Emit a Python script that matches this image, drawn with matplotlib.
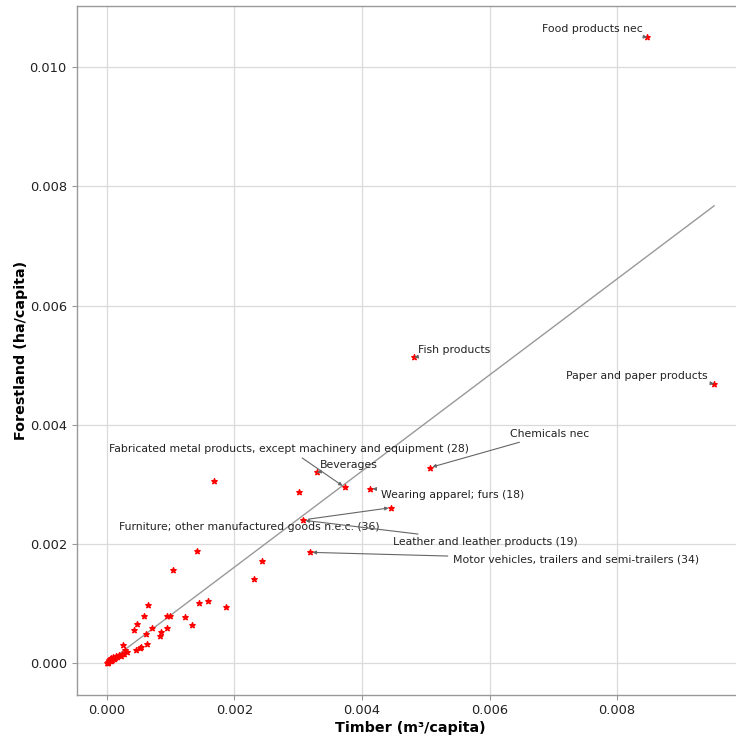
import matplotlib
matplotlib.use("Agg")
import matplotlib.pyplot as plt
import numpy as np

# Per-capita timber and forestland footprints by sector
timber = [
    0.00847, 0.00952, 0.00482, 0.00506, 0.00373, 0.00330, 0.00412, 0.00446,
    0.00307, 0.00318,
    0.00168, 0.00301, 0.00141, 0.00103, 0.00243, 0.00230, 0.00064, 0.00144,
    0.00158, 0.00186, 0.00058, 0.00094, 0.00099, 0.00122, 0.00133, 0.00047,
    0.00042, 0.00070, 0.00061, 0.00094, 0.00085, 0.00083, 0.00063, 0.00053,
    0.00052, 0.00045, 0.00025, 0.00028, 0.00031, 0.00027, 0.00019, 0.00014,
    0.00010, 0.00007, 0.00005, 0.00003, 0.00001, 0.00002, 0.00004, 0.00008,
    0.00012, 0.00016, 0.00022, 0.00024, 0.00006, 0.00011, 0.00000,
]
forestland = [
    0.01050, 0.00469, 0.00513, 0.00328, 0.00295, 0.00320, 0.00293, 0.00261,
    0.00240, 0.00186,
    0.00305, 0.00288, 0.00189, 0.00157, 0.00171, 0.00141, 0.00097, 0.00101,
    0.00104, 0.00095, 0.00080, 0.00079, 0.00079, 0.00077, 0.00064, 0.00065,
    0.00055, 0.00059, 0.00049, 0.00059, 0.00052, 0.00045, 0.00032, 0.00028,
    0.00025, 0.00022, 0.00030, 0.00022, 0.00018, 0.00015, 0.00013, 0.00012,
    0.00011, 0.00008, 0.00007, 0.00004, 0.00001, 0.00002, 0.00006, 0.00005,
    0.00009, 0.00010, 0.00012, 0.00016, 0.00003, 0.00007, 0.00000,
]

# Sectors that get a text label (the first ten points above)
labels = [
    "Food products nec",
    "Paper and paper products",
    "Fish products",
    "Chemicals nec",
    "Fabricated metal products, except machinery and equipment (28)",
    "Beverages",
    "Wearing apparel; furs (18)",
    "Furniture; other manufactured goods n.e.c. (36)",
    "Leather and leather products (19)",
    "Motor vehicles, trailers and semi-trailers (34)",
]
# Where each label's text sits (data coordinates)
label_pos = [
    (0.00761, 0.01064),
    (0.00830, 0.00481),
    (0.00545, 0.00526),
    (0.00694, 0.00385),
    (0.00285, 0.00360),
    (0.00380, 0.00333),
    (0.00542, 0.00283),
    (0.00224, 0.00228),
    (0.00593, 0.00203),
    (0.00736, 0.00174),
]

# Linear trend line
fit_slope = 0.806
fit_intercept = 0.0

fig = plt.figure(figsize=(7.36, 7.40), dpi=100)
ax = fig.add_axes([76.5 / 736, 45.5 / 740, 668 / 736, 688.5 / 740])

ax.grid(True, color="#dadada", linewidth=0.9, zorder=0)
ax.set_axisbelow(True)

ax.scatter(timber, forestland, marker="*", s=16, color="red", zorder=3)

xs = np.array([min(timber), max(timber)])
ax.plot(xs, fit_slope * xs + fit_intercept, color="#999999", linewidth=1.0, zorder=2)

for name, pos, x, y in zip(labels, label_pos, timber, forestland):
    ax.annotate(name, xy=(x, y), xytext=pos, ha="center", va="center",
                fontsize=7.8, color="#222222",
                arrowprops=dict(arrowstyle="-|>", color="#666666", lw=0.8,
                                mutation_scale=5))

ax.set_xlim(-0.000476, 0.009996)
ax.set_ylim(-0.000525, 0.011025)
ax.set_xticks([0.000, 0.002, 0.004, 0.006, 0.008])
ax.set_yticks([0.000, 0.002, 0.004, 0.006, 0.008, 0.010])
ax.xaxis.set_major_formatter(matplotlib.ticker.FormatStrFormatter("%.3f"))
ax.yaxis.set_major_formatter(matplotlib.ticker.FormatStrFormatter("%.3f"))
ax.tick_params(labelsize=9.4, colors="#222222", length=3.5, color="#999999")

for side in ax.spines.values():
    side.set_color("#999999")
    side.set_linewidth(1.0)

ax.set_xlabel("Timber (m³/capita)", fontsize=10.3, fontweight="bold", labelpad=3)
ax.set_ylabel("Forestland (ha/capita)", fontsize=10.3, fontweight="bold", labelpad=1)

fig.savefig("out.png", dpi=100)
